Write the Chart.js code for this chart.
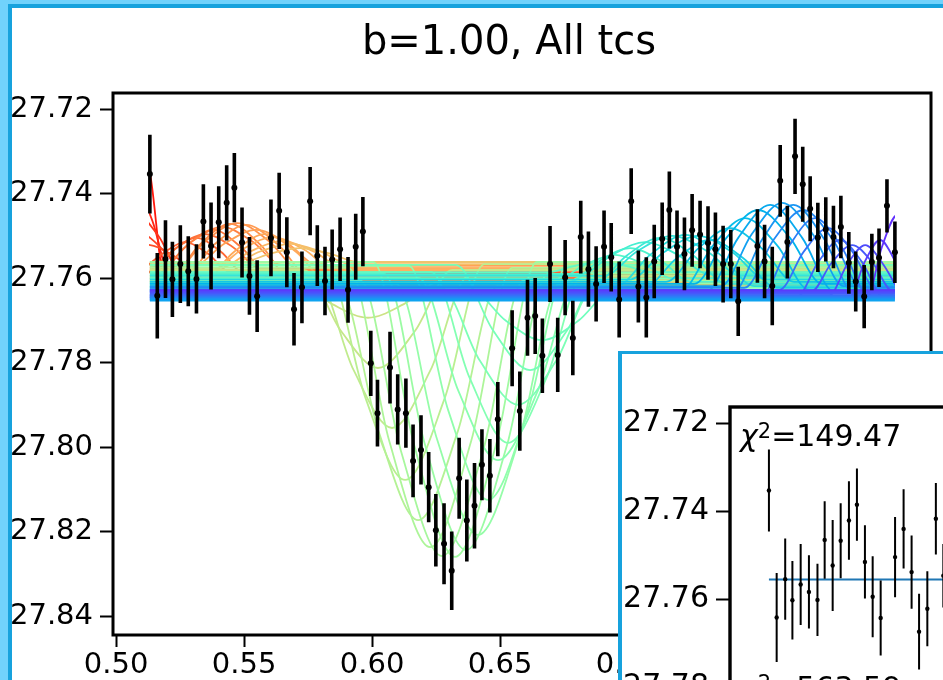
<!DOCTYPE html>
<html>
<head>
<meta charset="utf-8">
<title>b=1.00, All tcs</title>
<script src="https://cdn.jsdelivr.net/npm/chart.js@4.4.1/dist/chart.umd.min.js"></script>
<style>
  html, body { margin: 0; padding: 0; }
  body { position: relative; width: 943px; height: 680px; overflow: hidden; background: #fff;
         font-family: "DejaVu Sans", sans-serif; color: #000; }
  #lightcurve { position: absolute; left: 0; top: 0; }
  .edge-light { position: absolute; left: 0; top: 0; width: 943px; height: 680px; box-sizing: border-box;
                border-left: 8px solid #71d2fc; border-top: 4px solid #71d2fc; }
  .edge-dark { position: absolute; left: 8px; top: 4px; width: 935px; height: 676px; box-sizing: border-box;
               border-left: 4px solid #17a2dd; border-top: 4px solid #17a2dd; }
  #title { position: absolute; left: 509px; top: 20px; transform: translateX(-50%);
           font-size: 40px; line-height: 40px; white-space: nowrap; }
  #zoomPanel { position: absolute; left: 618px; top: 351px; width: 420px; height: 420px;
               border-left: 4px solid #17a2dd; border-top: 3px solid #17a2dd; background: #fff; }
  #zoomCanvas { position: absolute; left: 0; top: 0; }
  .chi { position: absolute; left: 118px; font-size: 30px; line-height: 30px; white-space: nowrap; }
  .chi i { font-style: italic; }
  .chi sup { font-size: 21px; vertical-align: 8px; line-height: 0; }
</style>
</head>
<body>
<canvas id="lightcurve" width="943" height="680"></canvas>
<div class="edge-light"></div>
<div class="edge-dark"></div>
<div id="title">b=1.00, All tcs</div>
<div id="zoomPanel">
  <canvas id="zoomCanvas" width="400" height="400"></canvas>
  <div class="chi" id="chiTop" style="top:67px"></div>
  <div class="chi" id="chiBottom" style="top:319px"></div>
</div>
<script>
// observations
const times = [0.5132, 0.5161, 0.5193, 0.5220, 0.5251, 0.5282, 0.5314, 0.5341, 0.5371, 0.5401,
               0.5432, 0.5462, 0.5492, 0.5521, 0.5551, 0.5605, 0.5637, 0.5667, 0.5695, 0.5726,
               0.5758, 0.5786, 0.5816, 0.5844, 0.5875, 0.5906, 0.5936, 0.5964, 0.5995, 0.6021,
               0.6070, 0.6100, 0.6132, 0.6160, 0.6191, 0.6221, 0.6249, 0.6281, 0.6311, 0.6340,
               0.6370, 0.6400, 0.6429, 0.6460, 0.6491, 0.6547, 0.6577, 0.6607, 0.6637, 0.6665,
               0.6695, 0.6725, 0.6754, 0.6784, 0.6815, 0.6845, 0.6875, 0.6906, 0.6934, 0.6965,
               0.7012, 0.7040, 0.7071, 0.7102, 0.7133, 0.7161, 0.7191, 0.7220, 0.7250, 0.7281,
               0.7312, 0.7341, 0.7371, 0.7401, 0.7430, 0.7505, 0.7533, 0.7563, 0.7594, 0.7622,
               0.7652, 0.7682, 0.7711, 0.7741, 0.7772, 0.7802, 0.7831, 0.7862, 0.7889, 0.7922,
               0.7952, 0.7980, 0.8011, 0.8042];
const mags = [27.7353, 27.7641, 27.7554, 27.7602, 27.7566, 27.7583, 27.7601, 27.7465, 27.7523, 27.7467,
              27.7421, 27.7385, 27.7515, 27.7594, 27.7642, 27.7504, 27.7440, 27.7538, 27.7673, 27.7621,
              27.7417, 27.7546, 27.7606, 27.7555, 27.7531, 27.7627, 27.7525, 27.7489, 27.7801, 27.7919,
              27.7811, 27.7910, 27.7919, 27.8032, 27.8006, 27.8094, 27.8196, 27.8228, 27.8292, 27.8073,
              27.8173, 27.8138, 27.8041, 27.8067, 27.7933, 27.7765, 27.7914, 27.7693, 27.7689, 27.7783,
              27.7566, 27.7781, 27.7598, 27.7741, 27.7502, 27.7578, 27.7613, 27.7525, 27.7550, 27.7650,
              27.7417, 27.7619, 27.7645, 27.7560, 27.7506, 27.7438, 27.7525, 27.7542, 27.7486, 27.7496,
              27.7516, 27.7531, 27.7566, 27.7566, 27.7654, 27.7523, 27.7560, 27.7618, 27.7369, 27.7514,
              27.7311, 27.7377, 27.7435, 27.7503, 27.7484, 27.7502, 27.7478, 27.7563, 27.7607, 27.7643,
              27.7561, 27.7551, 27.7428, 27.7538];
const magErr = [0.0093, 0.0101, 0.0092, 0.0089, 0.0092, 0.0083, 0.0082, 0.0088, 0.0103, 0.0085,
                0.0089, 0.0082, 0.0083, 0.0092, 0.0085, 0.0091, 0.0090, 0.0083, 0.0086, 0.0085,
                0.0081, 0.0072, 0.0081, 0.0071, 0.0075, 0.0078, 0.0078, 0.0082, 0.0077, 0.0079,
                0.0085, 0.0083, 0.0082, 0.0086, 0.0082, 0.0083, 0.0086, 0.0096, 0.0093, 0.0096,
                0.0097, 0.0101, 0.0084, 0.0087, 0.0088, 0.0090, 0.0094, 0.0090, 0.0090, 0.0088,
                0.0090, 0.0088, 0.0089, 0.0088, 0.0086, 0.0089, 0.0089, 0.0086, 0.0081, 0.0090,
                0.0078, 0.0085, 0.0095, 0.0087, 0.0086, 0.0091, 0.0086, 0.0086, 0.0086, 0.0080,
                0.0087, 0.0087, 0.0091, 0.0081, 0.0082, 0.0087, 0.0087, 0.0093, 0.0085, 0.0086,
                0.0089, 0.0089, 0.0077, 0.0082, 0.0076, 0.0074, 0.0074, 0.0073, 0.0071, 0.0075,
                0.0067, 0.0069, 0.0063, 0.0073];

const xTicks = [0.50, 0.55, 0.60, 0.65, 0.70, 0.75, 0.80];
const yTicks = [27.72, 27.74, 27.76, 27.78, 27.80, 27.82, 27.84];
const zoomYTicks = [27.72, 27.74, 27.76, 27.78];

// trial models: centre, half duration, out-of-transit level, extreme level
const edgeTc = [0.508, 0.506, 0.507, 0.509, 0.512];
const edgeHalf = [0.011, 0.016, 0.019, 0.021, 0.023];
const edgeBase = [27.7600, 27.7610, 27.7590, 27.7615, 27.7600];
const edgeLevel = [27.7213, 27.7369, 27.7443, 27.7493, 27.7520];

const earlyTc = [0.5270, 0.5313, 0.5348, 0.5379, 0.5414, 0.5445, 0.5473, 0.5508, 0.5547, 0.5582, 0.5613, 0.5648, 0.5680, 0.5719];
const earlyHalf = [0.0176, 0.0195, 0.0215, 0.0227, 0.0234, 0.0242, 0.0246, 0.0246, 0.0246, 0.0246, 0.0242, 0.0242, 0.0234, 0.0227];
const earlyBase = [27.7585, 27.7592, 27.7575, 27.7599, 27.7568, 27.7604, 27.7580, 27.7594, 27.7570, 27.7608, 27.7580, 27.7575, 27.7566, 27.7561];
const earlyLevel = [27.7514, 27.7504, 27.7495, 27.7485, 27.7478, 27.7471, 27.7469, 27.7473, 27.7485, 27.7495, 27.7502, 27.7511, 27.7518, 27.7528];

const dipTc = [0.5984, 0.6023, 0.6078, 0.6129, 0.6180, 0.6227, 0.6273, 0.6324, 0.6367, 0.6414, 0.6453, 0.6492, 0.6531, 0.6570, 0.6617, 0.6664];
const dipHalf = [0.028, 0.029, 0.030, 0.031, 0.031, 0.032, 0.032, 0.032, 0.032, 0.032, 0.031, 0.031, 0.030, 0.030, 0.029, 0.028];
const dipBase = [27.7608, 27.7580, 27.7594, 27.7566, 27.7618, 27.7575, 27.7604, 27.7561, 27.7589, 27.7613, 27.7570, 27.7599, 27.7585, 27.7622, 27.7568, 27.7627];
const dipLevel = [27.7693, 27.7812, 27.7954, 27.8077, 27.8172, 27.8236, 27.8257, 27.8259, 27.8243, 27.8207, 27.8124, 27.8030, 27.7989, 27.7899, 27.7817, 27.7746];

const lateTc = [0.6891, 0.6949, 0.7008, 0.7066, 0.7125, 0.7172, 0.7223, 0.7273, 0.7320, 0.7398, 0.7457, 0.7508, 0.7555, 0.7602, 0.7645, 0.7684, 0.7730, 0.7781, 0.7828, 0.7875, 0.7926, 0.7984, 0.8051];
const lateHalf = [0.020, 0.022, 0.024, 0.025, 0.026, 0.027, 0.027, 0.027, 0.026, 0.025, 0.025, 0.025, 0.025, 0.024, 0.024, 0.023, 0.021, 0.019, 0.017, 0.016, 0.014, 0.012, 0.012];
const lateBase = [27.7585, 27.7599, 27.7608, 27.7590, 27.7613, 27.7594, 27.7618, 27.7603, 27.7622, 27.7608, 27.7627, 27.7613, 27.7631, 27.7618, 27.7636, 27.7622, 27.7640, 27.7627, 27.7645, 27.7631, 27.7640, 27.7645, 27.7650];
const lateLevel = [27.7561, 27.7544, 27.7528, 27.7514, 27.7504, 27.7499, 27.7497, 27.7499, 27.7509, 27.7481, 27.7457, 27.7438, 27.7426, 27.7421, 27.7426, 27.7438, 27.7457, 27.7481, 27.7509, 27.7521, 27.7521, 27.7509, 27.7450];

const flatLevels = [27.7628, 27.7632, 27.7636, 27.7640, 27.7643, 27.7646, 27.7649, 27.7652];

// single flat fit shown in the zoom panel
const zoomFlat = 27.7555;
const chiValues = ['149.47', '563.59'];

Chart.defaults.font.family = 'DejaVu Sans';
Chart.defaults.color = '#000';

const xFirst = times[0];
const xLast = times[times.length - 1];
const PROFILE_U = [-1, -0.5, 0, 0.5, 1];
const PROFILE_F = [0, 0.62, 1, 0.62, 0];

function rainbow(t) {
  const r = Math.min(1, Math.abs(2 * t - 0.5));
  const g = Math.sin(Math.PI * t);
  const b = Math.cos(Math.PI * t / 2);
  return `rgb(${Math.round(255 * r)},${Math.round(255 * g)},${Math.round(255 * b)})`;
}

function curvePoints(tc, half, base, level) {
  const pts = [];
  if (tc - half > xFirst) pts.push({ x: xFirst, y: base });
  PROFILE_U.forEach((u, k) => pts.push({ x: tc + u * half, y: base + (level - base) * PROFILE_F[k] }));
  if (tc + half < xLast) pts.push({ x: xLast, y: base });
  return pts;
}

function modelSet(points, color, width) {
  return {
    data: points,
    borderColor: color,
    borderWidth: width,
    pointRadius: 0,
    fill: false,
    cubicInterpolationMode: 'monotone',
    clip: { left: -36, right: -36, top: 0, bottom: 0 }
  };
}

const models = [];
function addFamily(tcs, halves, bases, levels, shadeFrom, shadeTo) {
  tcs.forEach((tc, i) => {
    const t = shadeFrom + (shadeTo - shadeFrom) * i / (tcs.length - 1);
    models.push(modelSet(curvePoints(tc, halves[i], bases[i], levels[i]), rainbow(t), 1.8));
  });
}
addFamily(edgeTc, edgeHalf, edgeBase, edgeLevel, 0.97, 0.90);
addFamily(earlyTc, earlyHalf, earlyBase, earlyLevel, 0.88, 0.72);
addFamily(dipTc, dipHalf, dipBase, dipLevel, 0.65, 0.47);
addFamily(lateTc, lateHalf, lateBase, lateLevel, 0.44, 0.06);
flatLevels.forEach((v, i) => {
  const t = 0.07 + 0.15 * i / (flatLevels.length - 1);
  models.push(modelSet([{ x: xFirst, y: v }, { x: xLast, y: v }], rainbow(t), 2.2));
});

function errorBars(width) {
  const pts = [];
  times.forEach((x, i) => {
    pts.push({ x, y: mags[i] - magErr[i] }, { x, y: mags[i] + magErr[i] }, { x, y: null });
  });
  return { data: pts, borderColor: '#000', borderWidth: width, pointRadius: 0, tension: 0, spanGaps: false };
}

function markers(radius) {
  return {
    data: times.map((x, i) => ({ x, y: mags[i] })),
    showLine: false, pointRadius: radius, pointBackgroundColor: '#000', pointBorderWidth: 0
  };
}

const spines = {
  id: 'spines',
  afterDatasetsDraw(chart, args, opts) {
    const { ctx, chartArea: a } = chart;
    ctx.save();
    ctx.strokeStyle = '#000';
    ctx.lineWidth = opts.width;
    ctx.strokeRect(a.left, a.top, a.right - a.left, a.bottom - a.top);
    ctx.restore();
  }
};

function axisTicks(list) {
  return scale => { scale.ticks = list.map(value => ({ value })); };
}

// fixed axis box; no extra room for half-labels at the ends
function fixedBox(size) {
  return scale => {
    if (scale.isHorizontal()) scale.height = size; else scale.width = size;
    scale.paddingTop = 0;
    scale.paddingBottom = 0;
    scale.paddingLeft = 0;
    scale.paddingRight = 0;
  };
}

new Chart(document.getElementById('lightcurve'), {
  type: 'line',
  data: { datasets: [markers(3), errorBars(3.6), ...models.slice().reverse()] },
  options: {
    responsive: false,
    animation: false,
    events: [],
    layout: { padding: { top: 93, right: 12, left: 0, bottom: 0 } },
    plugins: { legend: { display: false }, tooltip: { enabled: false }, spines: { width: 3 } },
    scales: {
      x: {
        type: 'linear', min: 0.4988, max: 0.8183,
        afterBuildTicks: axisTicks(xTicks),
        afterFit: fixedBox(45),
        border: { display: false },
        grid: { drawOnChartArea: false, tickLength: 12, tickWidth: 2, tickColor: '#000' },
        ticks: { autoSkip: false, maxRotation: 0, padding: 1, font: { size: 29 }, callback: v => v.toFixed(2) }
      },
      y: {
        type: 'linear', reverse: true, min: 27.7161, max: 27.8444,
        afterBuildTicks: axisTicks(yTicks),
        afterFit: fixedBox(113),
        border: { display: false },
        grid: { drawOnChartArea: false, tickLength: 13, tickWidth: 2, tickColor: '#000' },
        ticks: { autoSkip: false, padding: 7, font: { size: 29 }, callback: v => v.toFixed(2) }
      }
    }
  },
  plugins: [spines]
});

// zoomed view of the first part of the night
new Chart(document.getElementById('zoomCanvas'), {
  type: 'line',
  data: {
    datasets: [
      markers(2.2),
      errorBars(2),
      { data: [{ x: xFirst, y: zoomFlat }, { x: xLast, y: zoomFlat }], borderColor: '#1f77b4', borderWidth: 2, pointRadius: 0 }
    ]
  },
  options: {
    responsive: false,
    animation: false,
    events: [],
    layout: { padding: { top: 53, right: 0, left: 0, bottom: 0 } },
    plugins: { legend: { display: false }, tooltip: { enabled: false }, spines: { width: 3.4 } },
    scales: {
      x: { type: 'linear', min: 0.4986, max: 0.6066, display: false },
      y: {
        type: 'linear', reverse: true, min: 27.71635, max: 27.79415,
        afterBuildTicks: axisTicks(zoomYTicks),
        afterFit: fixedBox(108),
        border: { display: false },
        grid: { drawOnChartArea: false, tickLength: 14, tickWidth: 2, tickColor: '#000' },
        ticks: { autoSkip: false, padding: 7, font: { size: 30 }, callback: v => v.toFixed(2) }
      }
    }
  },
  plugins: [spines]
});

document.getElementById('chiTop').innerHTML = '<i>χ</i><sup>2</sup>=' + chiValues[0];
document.getElementById('chiBottom').innerHTML = '<i>χ</i><sup>2</sup>=' + chiValues[1];
</script>
</body>
</html>
